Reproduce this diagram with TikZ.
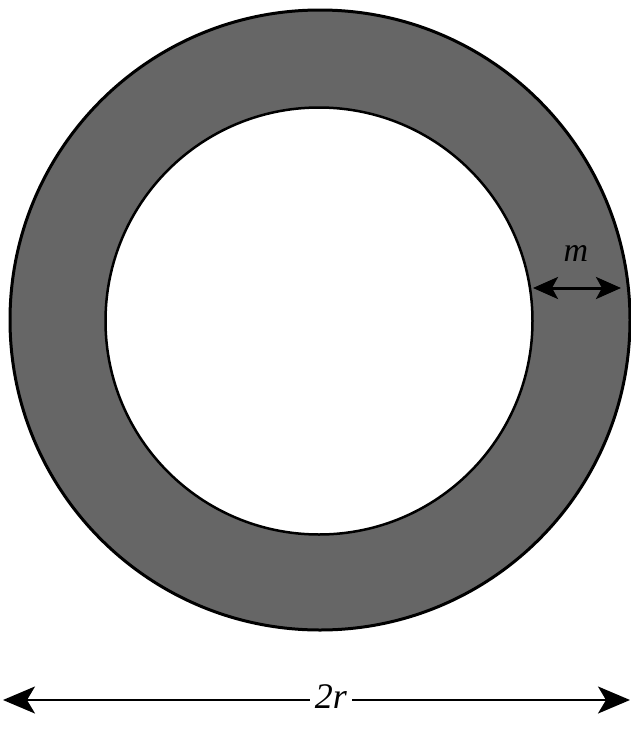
\documentclass[tikz,border=0pt]{standalone}
\usepackage{fontspec}
\newfontfamily\lserif{Liberation Serif}
\usetikzlibrary{arrows.meta}
\begin{document}
\begin{tikzpicture}[x=1pt,y=-1pt,
  ring/.style={circle, draw=black, inner sep=0pt},
  dimarrow/.style={line width=2.4pt, {Stealth[length=32pt,width=27pt,inset=8pt]}-{Stealth[length=32pt,width=27pt,inset=8pt]}},
  thickarrow/.style={line width=3pt, {Stealth[length=25pt,width=22pt,inset=6pt]}-{Stealth[length=25pt,width=22pt,inset=6pt]}},
  lbl/.style={font=\lserif\itshape\fontsize{36}{40}\selectfont, inner sep=2pt}]
\useasboundingbox (0,0) rectangle (631,742);
\node[ring, fill=black!60, line width=3pt, minimum size=620pt] (outer) at (320,320) {};
\node[ring, fill=white, line width=2.5pt, minimum size=427pt] (inner) at (319,321) {};
\coordinate (ma) at (533,288);
\coordinate (mb) at (621,288);
\draw[thickarrow] (ma) -- (mb);
\node[lbl, font=\lserif\itshape\fontsize{34}{38}\selectfont] (m) at (576,253) {m};
\coordinate (L) at (3,700);
\coordinate (R) at (630,700);
\draw[dimarrow] (L) -- (R);
\node[lbl, fill=white, inner xsep=5pt] (tr) at (331,697) {2r};
\end{tikzpicture}
\end{document}
